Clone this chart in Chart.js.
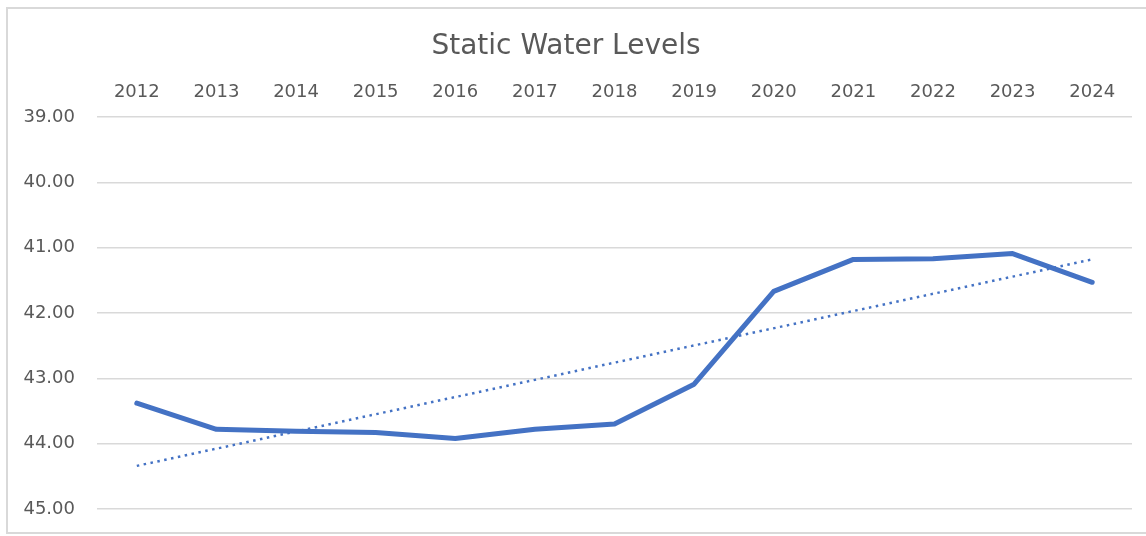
<!DOCTYPE html>
<html>
<head>
<meta charset="utf-8">
<title>Static Water Levels</title>
<script src="https://cdn.jsdelivr.net/npm/chart.js@4.4.1/dist/chart.umd.min.js"></script>
<style>
  html, body { margin: 0; padding: 0; background: #fff; overflow: hidden; }
  #wrap { position: relative; width: 1146px; height: 536px; overflow: hidden; }
  #frame {
    position: absolute; left: 6px; top: 7px; width: 1160px; height: 523px;
    border: 2px solid #d9d9d9; pointer-events: none;
  }
</style>
</head>
<body>
<div id="wrap">
  <canvas id="levelChart" width="1146" height="536"></canvas>
  <div id="frame"></div>
</div>
<script>
// Years along the top axis
const years = ['2012', '2013', '2014', '2015', '2016', '2017', '2018', '2019', '2020', '2021', '2022', '2023', '2024'];

// Depth to water
const staticLevels = [43.38, 43.78, 43.81, 43.83, 43.92, 43.78, 43.70, 43.09, 41.67, 41.18, 41.17, 41.09, 41.53];

// Linear trend line, only the two end points
const trendLevels = [44.34, null, null, null, null, null, null, null, null, null, null, null, 41.18];

const axisColor = '#595959';
const gridColor = '#d9d9d9';
const lineColor = '#4472c4';
const fontFamily = '"DejaVu Sans", sans-serif';

document.addEventListener("DOMContentLoaded", function() {
    const ctx = document.getElementById('levelChart').getContext('2d');

    new Chart(ctx, {
        type: 'line',
        data: {
            labels: years,
            datasets: [{
                label: 'Static Water Level',
                data: staticLevels,
                borderColor: lineColor,
                borderWidth: 5,
                borderJoinStyle: 'round',
                borderCapStyle: 'round',
                pointRadius: 0,
                tension: 0,
                fill: false
            }, {
                label: 'Trend',
                data: trendLevels,
                borderColor: lineColor,
                borderWidth: 2.5,
                borderDash: [2.5, 4.5],
                pointRadius: 0,
                spanGaps: true,
                tension: 0,
                fill: false
            }]
        },
        options: {
            responsive: false,
            animation: false,
            layout: {
                padding: { left: 0, right: 14, top: 0, bottom: 27 }
            },
            plugins: {
                legend: { display: false },
                tooltip: { enabled: false },
                title: {
                    display: true,
                    text: 'Static Water Levels',
                    color: axisColor,
                    font: { family: fontFamily, size: 28, weight: 'normal', lineHeight: 1.2 },
                    padding: { top: 30, bottom: 0 }
                }
            },
            scales: {
                x: {
                    position: 'top',
                    offset: true,
                    grid: { display: false, drawTicks: false },
                    border: { display: false },
                    ticks: {
                        color: axisColor,
                        padding: 14,
                        maxRotation: 0,
                        font: { family: fontFamily, size: 18 }
                    },
                    afterFit: function(scale) {
                        scale.height = 53.4;
                    }
                },
                y: {
                    reverse: true,
                    min: 39,
                    max: 45,
                    // invisible tick marks push the labels away from the plot
                    grid: { color: gridColor, lineWidth: 1.5, drawTicks: true, tickLength: 22, tickColor: 'rgba(0,0,0,0)' },
                    border: { display: false },
                    ticks: {
                        stepSize: 1,
                        color: axisColor,
                        padding: 0,
                        font: { family: fontFamily, size: 18 },
                        callback: function(value) { return value.toFixed(2); }
                    },
                    afterFit: function(scale) {
                        scale.width = 97;
                    }
                }
            }
        }
    });
});
</script>
</body>
</html>
